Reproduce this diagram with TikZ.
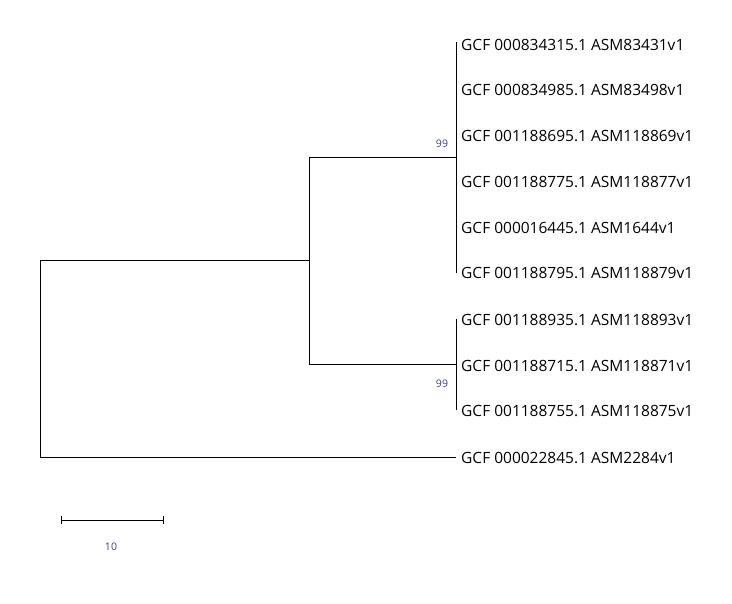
\documentclass[tikz,border=0pt]{standalone}
\usepackage{fontspec}
\setmainfont{Open Sans}
\begin{document}
\begin{tikzpicture}[x=1pt,y=-1pt,
  leaf/.style={anchor=west,inner sep=0pt,font=\fontsize{15.5}{17}\selectfont},
  boot/.style={inner sep=0pt,font=\fontsize{10.5}{12}\selectfont,text=boot},
  br/.style={line width=1pt,line cap=rect}]
\definecolor{boot}{HTML}{3B4A6B}
\definecolor{scalec}{HTML}{3C3C8C}
\useasboundingbox (0,0) rectangle (732,604);
% internal nodes
\coordinate (root) at (40,261);
\coordinate (rootb) at (40,458);
\coordinate (A) at (309,261);
\coordinate (Atop) at (309,158);
\coordinate (Abot) at (309,365);
\coordinate (U) at (456,158);
\coordinate (Ut) at (456,43);
\coordinate (Ub) at (456,273);
\coordinate (L) at (456,365);
\coordinate (Lt) at (456,320);
\coordinate (Lb) at (456,410);
\coordinate (tip10) at (455,458);
% leaves
\node[leaf] (l1) at (461,45) {GCF 000834315.1 ASM83431v1};
\node[leaf] (l2) at (461,90) {GCF 000834985.1 ASM83498v1};
\node[leaf] (l3) at (461,136) {GCF 001188695.1 ASM118869v1};
\node[leaf] (l4) at (461,182) {GCF 001188775.1 ASM118877v1};
\node[leaf] (l5) at (461,228) {GCF 000016445.1 ASM1644v1};
\node[leaf] (l6) at (461,273) {GCF 001188795.1 ASM118879v1};
\node[leaf] (l7) at (461,320) {GCF 001188935.1 ASM118893v1};
\node[leaf] (l8) at (461,366) {GCF 001188715.1 ASM118871v1};
\node[leaf] (l9) at (461,411) {GCF 001188755.1 ASM118875v1};
\node[leaf] (l10) at (461,458) {GCF 000022845.1 ASM2284v1};
% branches
\draw[br] (A) -- (root) -- (rootb) -- (tip10);
\draw[br] (U) -- (Atop) -- (Abot) -- (L);
\draw[br] (Ut) -- (Ub);
\draw[br] (Lt) -- (Lb);
% bootstrap
\node[boot] (b1) at (442,144) {99};
\node[boot] (b2) at (442,384) {99};
% scale bar
\coordinate (s1) at (61,520);
\coordinate (s2) at (163,520);
\draw[line width=1pt] (s1) -- (s2);
\draw[line width=1pt] ([yshift=-4]s1) -- ([yshift=4]s1);
\draw[line width=1pt] ([yshift=-4]s2) -- ([yshift=4]s2);
\node[inner sep=0pt,font=\fontsize{10.5}{12}\selectfont,text=scalec] (sl) at (111,547) {10};
\end{tikzpicture}
\end{document}
